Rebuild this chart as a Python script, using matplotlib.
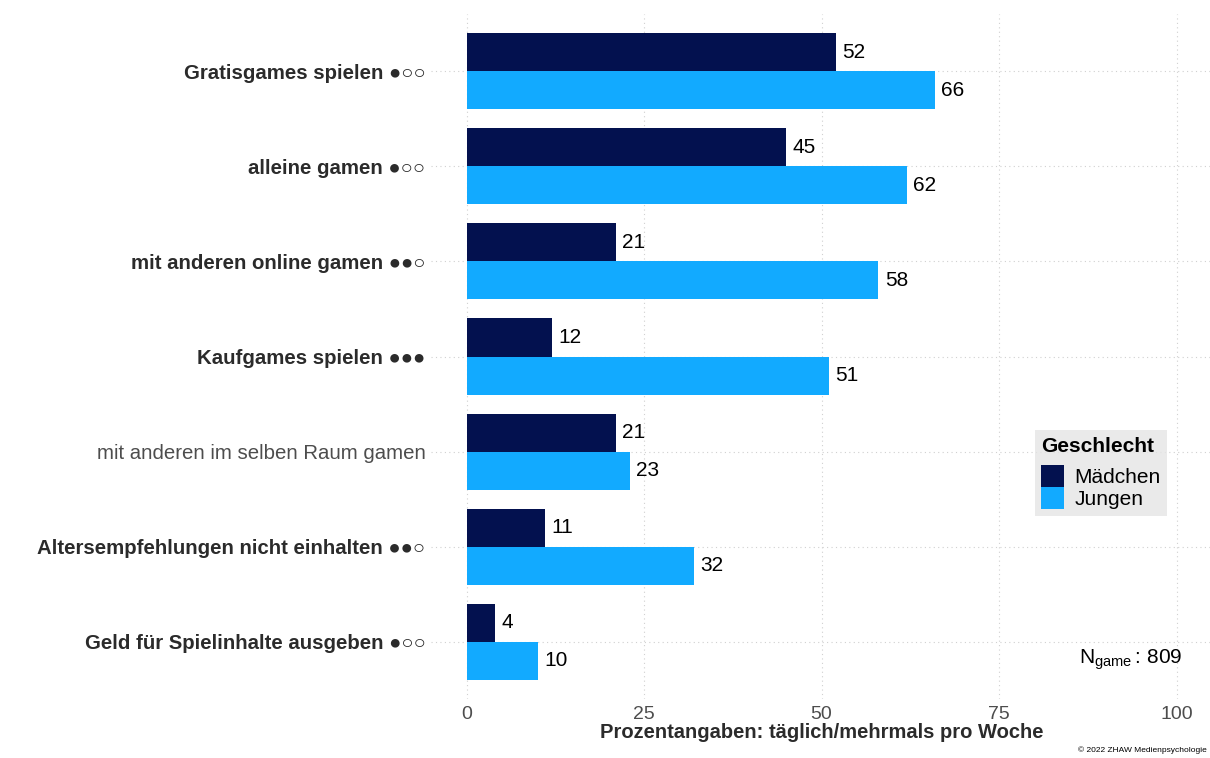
import numpy as np
import matplotlib
matplotlib.use("Agg")
import matplotlib.pyplot as plt
from matplotlib.patches import Patch

plt.rcParams["font.family"] = ["Liberation Sans", "DejaVu Sans"]
plt.rcParams["mathtext.fontset"] = "custom"
plt.rcParams["mathtext.rm"] = "Liberation Sans"

# Data
categories = [
    "Gratisgames spielen ●○○",
    "alleine gamen ●○○",
    "mit anderen online gamen ●●○",
    "Kaufgames spielen ●●●",
    "mit anderen im selben Raum gamen",
    "Altersempfehlungen nicht einhalten ●●○",
    "Geld für Spielinhalte ausgeben ●○○",
]
bold_labels = [True, True, True, True, False, True, True]
maedchen = [52, 45, 21, 12, 21, 11, 4]
jungen = [66, 62, 58, 51, 23, 32, 10]
series_names = ["Mädchen", "Jungen"]
colors = ["#03114f", "#12aaff"]
xticks = [0, 25, 50, 75, 100]

fig = plt.figure(figsize=(12.1, 7.58), dpi=100)
ax = fig.add_axes([431 / 1210, 1 - 699 / 758, (1212 - 431) / 1210, (699 - 14) / 758])

y = np.arange(len(categories))
h = 0.4
ax.barh(y - h / 2, maedchen, height=h, color=colors[0], zorder=2)
ax.barh(y + h / 2, jungen, height=h, color=colors[1], zorder=2)

for yi, (m, j) in enumerate(zip(maedchen, jungen)):
    ax.text(m + 0.9, yi - h / 2, str(m), va="center", ha="left", fontsize=15, color="black")
    ax.text(j + 0.9, yi + h / 2, str(j), va="center", ha="left", fontsize=15, color="black")

ax.set_xlim(-5, 105)
ax.set_ylim(len(categories) - 1 + 0.6, -0.6)
ax.set_yticks(y)
ax.set_yticklabels(categories)
for lbl, b in zip(ax.get_yticklabels(), bold_labels):
    lbl.set_fontweight("bold" if b else "normal")
    lbl.set_fontsize(14.7)
    lbl.set_color("#2b2b2b" if b else "#4d4d4d")

ax.set_xticks(xticks)
ax.set_xticklabels([str(t) for t in xticks], fontsize=14, color="#4d4d4d")
ax.tick_params(axis="both", length=0, pad=4)
ax.tick_params(axis="x", pad=5)
ax.grid(True, color="#d0d0d0", linestyle=(0, (1, 3)), linewidth=0.8, zorder=0)
for s in ax.spines.values():
    s.set_visible(False)

ax.set_xlabel("Prozentangaben: täglich/mehrmals pro Woche", fontsize=14.5,
              fontweight="bold", color="#2b2b2b", labelpad=0)

handles = [Patch(facecolor=c, edgecolor="none") for c in colors]
leg = ax.legend(handles, series_names, title="Geschlecht", loc="center",
                bbox_to_anchor=(1101 / 1210, 1 - 473 / 758), bbox_transform=fig.transFigure,
                frameon=True, fancybox=False, fontsize=15, title_fontsize=15,
                handlelength=1.1, handleheight=1.25, handletextpad=0.5,
                labelspacing=0.0, borderpad=0.3)
leg.get_title().set_fontweight("bold")
leg._legend_box.align = "left"
leg._legend_box.sep = 7
leg.get_frame().set_facecolor("#e5e5e5")
leg.get_frame().set_edgecolor("none")

fig.text(1182 / 1210, 1 - 660 / 758, r"N$_{\mathrm{game}}\,$: 809", ha="right", va="center",
         fontsize=15, color="black")
fig.text(1207 / 1210, 1 - 750 / 758, "© 2022 ZHAW Medienpsychologie", ha="right",
         va="center", fontsize=6, color="black")

fig.savefig("out.png", dpi=100)
